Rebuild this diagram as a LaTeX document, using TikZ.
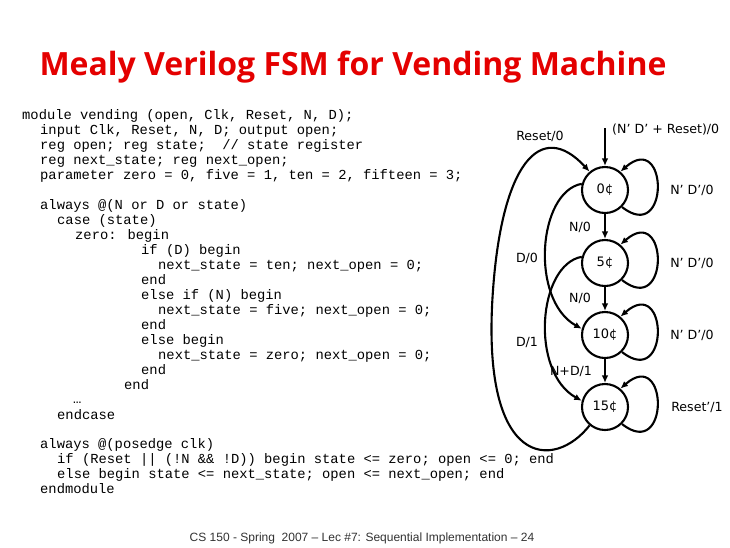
\documentclass[tikz,border=0pt]{standalone}
\usepackage{fontspec}
\usetikzlibrary{arrows.meta}
\setmainfont{DejaVu Sans}
\newfontfamily\titlefam{Open Sans}
\newfontfamily\codefam{Liberation Mono}
\newfontfamily\footfam{Liberation Sans}
\definecolor{titlered}{RGB}{228,0,0}
\definecolor{footgray}{RGB}{50,50,50}

\begin{document}
\begin{tikzpicture}[x=1pt, y=1pt,
  state/.style={circle, draw, line width=2.1pt, minimum size=46pt, inner sep=0pt, font=\fontsize{13}{15}\selectfont},
  lbl/.style={inner sep=1pt, font=\fontsize{12.6}{14}\selectfont},
  arr/.style={line width=2.1pt, -{Latex[length=7.5pt,width=6.5pt]}},
  code/.style={anchor=base west, inner sep=0pt, font=\codefam\fontsize{13.8}{15}\selectfont}]
\useasboundingbox (0,0) rectangle (730,-547);

% Title
\node[text=titlered, anchor=base, font=\titlefam\bfseries\fontsize{32}{36}\selectfont] (title) at (353,-75) {Mealy Verilog FSM for Vending Machine};

% Verilog code, one node per line
\foreach \cx/\cy/\ctxt [count=\i] in {
  22/119/{module vending (open, Clk, Reset, N, D);},
  40/134/{input Clk, Reset, N, D; output open;},
  40/149/{reg open; reg state;\ \ // state register},
  40/164/{reg next\_state; reg next\_open;},
  40/179/{parameter zero = 0, five = 1, ten = 2, fifteen = 3;},
  40/209/{always @(N or D or state)},
  57/224/{case (state)},
  75/239/{zero: begin},
  141/254/{if (D) begin},
  158/269/{next\_state = ten; next\_open = 0;},
  141/284/{end},
  141/299/{else if (N) begin},
  158/314/{next\_state = five; next\_open = 0;},
  141/329/{end},
  141/344/{else begin},
  158/359/{next\_state = zero; next\_open = 0;},
  141/374/{end},
  124/389/{end},
  73/403/{…},
  57/419/{endcase},
  40/448/{always @(posedge clk)},
  57/463/{if (Reset || (!N \&\& !D)) begin state <= zero; open <= 0; end},
  57/478/{else begin state <= next\_state; open <= next\_open; end},
  40/493/{endmodule}}
  \node[code] (code\i) at (\cx,-\cy) {\ctxt};

% States
\node[state] (zero) at (605,-190) {0¢};
\node[state] (five) at (605,-263) {5¢};
\node[state] (ten) at (605,-335) {10¢};
\node[state] (fifteen) at (605,-407) {15¢};

\coordinate (start) at (605,-128);
\draw[arr] (start) -- (zero);
\draw[arr] (zero) -- (five);
\draw[arr] (five) -- (ten);
\draw[arr] (ten) -- (fifteen);

% self loops
\foreach \s in {zero,five,ten,fifteen}
  \draw[arr] (\s.-45) .. controls +(48,-38) and +(48,42) .. (\s.50);

% long arcs on the left
\draw[arr] (fifteen.-130) .. controls +(-35,-45) and (480,-470) .. (493,-290)
  .. controls (502,-165) and (540,-118) .. (zero.130);
\draw[arr] (zero.165) .. controls +(-44,-8) and +(-52,29) .. (ten.165);
\draw[arr] (five.165) .. controls +(-44,-8) and +(-52,29) .. (fifteen.165);

% Labels
\node[lbl, anchor=west] (resetin) at (611,-130) {(N’ D’ + Reset)/0};
\node[lbl] (reset0) at (540,-136) {Reset/0};
\node[lbl] (stay0) at (692,-190) {N’ D’/0};
\node[lbl] (stay5) at (692,-263) {N’ D’/0};
\node[lbl] (stay10) at (692,-335) {N’ D’/0};
\node[lbl] (stay15) at (697,-407) {Reset’/1};
\node[lbl] (nickel0) at (580,-227) {N/0};
\node[lbl] (nickel5) at (580,-298) {N/0};
\node[lbl] (dime0) at (527,-258) {D/0};
\node[lbl] (dime5) at (527,-342) {D/1};
\node[lbl] (coin10) at (571,-371) {N+D/1};

% Footer
\node[text=footgray, anchor=base, font=\footfam\fontsize{12}{14}\selectfont] (footer) at (362,-541) {CS 150 - Spring\ \ 2007 – Lec \#7: Sequential Implementation – 24};
\end{tikzpicture}
\end{document}
